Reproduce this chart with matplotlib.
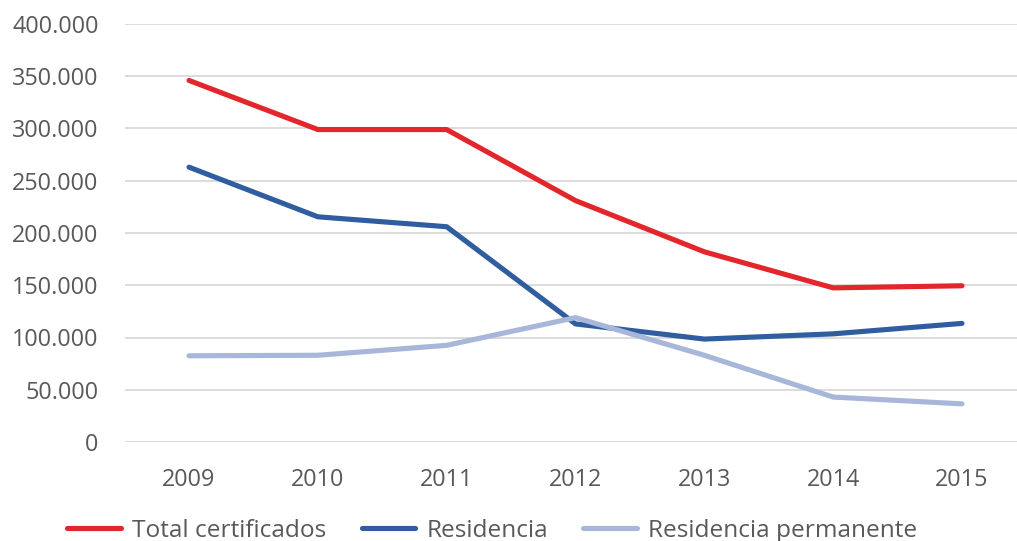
import matplotlib
matplotlib.use("Agg")
import matplotlib.pyplot as plt
from matplotlib.ticker import FuncFormatter

years = ["2009", "2010", "2011", "2012", "2013", "2014", "2015"]
total = [346000, 299000, 299000, 231000, 182000, 147500, 149500]
residencia = [263000, 215500, 206000, 113000, 98500, 103500, 113500]
permanente = [82500, 83000, 92500, 119000, 83000, 43000, 36500]

plt.rcParams["font.family"] = ["Open Sans", "DejaVu Sans"]

fig = plt.figure(figsize=(10.17, 5.41), dpi=100)
ax = fig.add_axes([125 / 1017, 99 / 541, 892 / 1017, 418 / 541])

x = list(range(len(years)))
ax.plot(x, total, color="#E3262B", linewidth=3.7, solid_capstyle="round", label="Total certificados")
ax.plot(x, residencia, color="#2F5D9F", linewidth=3.7, solid_capstyle="round", label="Residencia")
ax.plot(x, permanente, color="#A8B6D9", linewidth=3.7, solid_capstyle="round", label="Residencia permanente")

ax.set_xlim(-0.497, 6.427)
ax.set_ylim(0, 400000)
ax.set_yticks(range(0, 400001, 50000))
ax.yaxis.set_major_formatter(FuncFormatter(lambda v, p: f"{int(v):,}".replace(",", ".")))
ax.set_xticks(x)
ax.set_xticklabels(years)
ax.grid(axis="y", color="#D9D9D9", linewidth=1.3)
ax.set_axisbelow(True)
for s in ax.spines.values():
    s.set_visible(False)
ax.tick_params(axis="both", length=0, labelsize=16.8, colors="#595959")
ax.tick_params(axis="x", pad=19)
ax.tick_params(axis="y", pad=19)

fig.legend(loc="center", bbox_to_anchor=(0.484, 0.019), ncol=3, frameon=False,
           fontsize=17.6, handlelength=2.2, handletextpad=0.45, columnspacing=1.45,
           labelcolor="#595959")

fig.savefig("out.png", dpi=100, facecolor="white")
